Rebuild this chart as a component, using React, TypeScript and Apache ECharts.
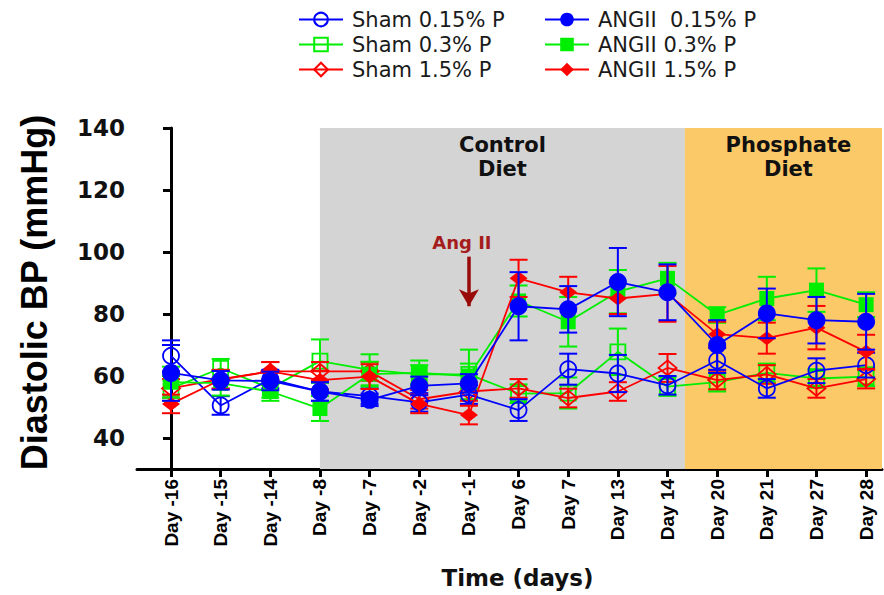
import React, { useEffect, useRef } from "react";
import * as echarts from "echarts";

const DAYS = ["Day -16", "Day -15", "Day -14", "Day -8", "Day -7", "Day -2", "Day -1", "Day 6", "Day 7", "Day 13", "Day 14", "Day 20", "Day 21", "Day 27", "Day 28"];
const DAY_INDEX = DAYS.map((_, i) => i);
const Y_TICKS = [40, 60, 80, 100, 120, 140];

const SHAM_015 = [66.5, 50.5, 59, 55, 53.5, 51.5, 54, 49, 62.2, 60.8, 57, 65, 56, 61.7, 63.5];
const SHAM_015_SEM = [5, 3, 3, 3, 2.5, 3, 3, 3.5, 5, 6, 3, 4, 3, 4, 4];
const SHAM_03 = [56, 62.5, 56, 64.8, 62, 60.5, 60.5, 54.3, 54.5, 67.8, 56.6, 58, 61, 59.2, 59.8];
const SHAM_03_SEM = [4, 3, 3, 7, 5, 3, 8, 3, 5, 7.5, 3, 3, 3, 3, 3];
const SHAM_15 = [56, 59, 61.5, 61.5, 61.5, 52.5, 55, 56, 52.9, 55, 62.6, 58.7, 60.5, 56, 59];
const SHAM_15_SEM = [3, 3, 3, 3, 3, 3, 3, 3, 3, 3, 4.5, 3, 3, 3, 3];
const ANG_015 = [61, 58.6, 58.4, 55, 52.3, 56.8, 57.6, 82.5, 81.5, 90.3, 87, 70, 80.2, 78, 77.5];
const ANG_015_SEM = [9, 3, 3, 3, 2, 3, 3, 11, 7.5, 11, 9, 8, 8, 7.5, 9];
const ANG_03 = [58, 57.7, 55, 49.5, 60.6, 61, 60, 84.2, 77.5, 87.2, 91.5, 79.7, 85, 87.7, 83];
const ANG_03_SEM = [5, 4, 3, 4, 4, 4, 4, 5, 8, 7, 5, 2.5, 7, 7, 4];
const ANG_15 = [51, 58.8, 61.5, 58.7, 59.8, 51, 47.4, 91.5, 87, 85, 86.5, 73.5, 72.2, 75.6, 67.8];
const ANG_15_SEM = [3, 3, 3, 3, 4, 3, 3, 6, 5, 5, 9, 4, 5, 7, 5.5];

const PHASE_NAMES = ["Control\nDiet", "Phosphate\nDiet"];
const PHASE_START = [3, 10.35];
const PHASE_END = [10.35, 14.32];
const ANG_II_DAY = 6;
const ANG_II_ARROW = [98.5, 82.5];

const BLUE = "#0000FF";
const GREEN = "#00EE00";
const RED = "#FF0000";

type Group = {
  name: string;
  values: number[];
  sem: number[];
  color: string;
  symbol: string;
  size: number | number[];
  open: boolean;
};

const GROUPS: Group[] = [
  { name: "Sham 0.3% P", values: SHAM_03, sem: SHAM_03_SEM, color: GREEN, symbol: "rect", size: 15, open: true },
  { name: "Sham 1.5% P", values: SHAM_15, sem: SHAM_15_SEM, color: RED, symbol: "diamond", size: [18, 15], open: true },
  { name: "Sham 0.15% P", values: SHAM_015, sem: SHAM_015_SEM, color: BLUE, symbol: "circle", size: 16, open: true },
  { name: "ANGII 0.3% P", values: ANG_03, sem: ANG_03_SEM, color: GREEN, symbol: "rect", size: 15, open: false },
  { name: "ANGII 1.5% P", values: ANG_15, sem: ANG_15_SEM, color: RED, symbol: "diamond", size: [18, 14], open: false },
  { name: "ANGII  0.15% P", values: ANG_015, sem: ANG_015_SEM, color: BLUE, symbol: "circle", size: 18, open: false },
];

const LEGEND_LEFT = ["Sham 0.15% P", "Sham 0.3% P", "Sham 1.5% P"];
const LEGEND_RIGHT = ["ANGII  0.15% P", "ANGII 0.3% P", "ANGII 1.5% P"];

export default function App() {
  const ref = useRef<HTMLDivElement>(null);
  useEffect(() => {
    if (!ref.current) return;
    const chart = echarts.init(ref.current, null, { renderer: "svg" });

    const series: any[] = [];
    series.push({
      name: "phases",
      type: "line",
      data: [],
      z: 0,
      clip: false,
      silent: true,
      markArea: {
        silent: true,
        data: PHASE_NAMES.map((n, i) => [
          {
            name: n,
            xAxis: PHASE_START[i],
            yAxis: 30,
            itemStyle: { color: i === 0 ? "#D4D4D4" : "#FCC969", opacity: 1 },
            label: { offset: i === 0 ? [0, 0] : [5, 0] },
          },
          { xAxis: PHASE_END[i], yAxis: 142.5 },
        ]),
        label: {
          show: true,
          position: "insideTop",
          distance: 5,
          color: "#111",
          fontFamily: "DejaVu Sans",
          fontWeight: "bold",
          fontSize: 21,
          lineHeight: 24,
          align: "center",
        },
      },
    });

    GROUPS.forEach((g, gi) => {
      series.push({
        name: g.name + " SEM",
        type: "custom",
        z: 2 + gi,
        silent: true,
        data: DAY_INDEX.map((i) => [i, g.values[i], g.sem[i]]),
        encode: { x: 0, y: 1 },
        renderItem: (params: any, api: any) => {
          const x = api.value(0);
          const y = api.value(1);
          const e = api.value(2);
          const top = api.coord([x, y + e]);
          const bot = api.coord([x, y - e]);
          const hw = 9;
          const st = { stroke: g.color, lineWidth: 2 };
          return {
            type: "group",
            children: [
              { type: "line", shape: { x1: top[0], y1: top[1], x2: bot[0], y2: bot[1] }, style: st },
              { type: "line", shape: { x1: top[0] - hw, y1: top[1], x2: top[0] + hw, y2: top[1] }, style: st },
              { type: "line", shape: { x1: bot[0] - hw, y1: bot[1], x2: bot[0] + hw, y2: bot[1] }, style: st },
            ],
          };
        },
      });
      series.push({
        name: g.name,
        type: "line",
        z: 2 + gi,
        color: g.color,
        data: DAY_INDEX.map((i) => [i, g.values[i]]),
        symbol: g.symbol,
        symbolSize: g.size,
        showSymbol: true,
        lineStyle: { color: g.color, width: 1.8 },
        itemStyle: g.open
          ? { color: "rgba(255,255,255,0)", borderColor: g.color, borderWidth: 1.8 }
          : { color: g.color, borderColor: g.color, borderWidth: 0 },
      });
    });

    series.push({
      name: "annot",
      type: "line",
      data: [],
      z: 20,
      silent: true,
      markLine: {
        silent: true,
        symbol: ["none", "arrow"],
        symbolSize: [15, 17],
        lineStyle: { color: "#990A0A", width: 3.5, type: "solid" },
        label: {
          show: true,
          position: "start",
          formatter: "Ang II",
          color: "#A51C1C",
          fontFamily: "DejaVu Sans",
          fontWeight: "bold",
          fontSize: 18,
          distance: 5,
          offset: [-7, 0],
        },
        data: [[{ coord: [ANG_II_DAY, ANG_II_ARROW[0]] }, { coord: [ANG_II_DAY, ANG_II_ARROW[1]] }]],
      },
    });

    const legendBase = {
      orient: "vertical",
      top: 9,
      padding: 0,
      itemWidth: 44,
      itemHeight: 17,
      itemGap: 4,
      textStyle: {
        fontFamily: "DejaVu Sans",
        fontSize: 21,
        lineHeight: 21,
        color: "#1a1a1a",
        padding: [0, 0, 0, 4],
      },
    };

    chart.setOption({
      animation: false,
      backgroundColor: "#fff",
      legend: [
        { ...legendBase, left: 298, data: LEGEND_LEFT },
        { ...legendBase, left: 544, data: LEGEND_RIGHT },
      ],
      grid: { left: 137, right: 2, top: 128, bottom: 126, containLabel: false },
      xAxis: {
        type: "value",
        min: -0.685,
        max: 14.32,
        splitNumber: 15,
        splitLine: { show: false },
        name: "Time (days)",
        nameLocation: "middle",
        nameGap: 97,
        nameTextStyle: {
          fontFamily: "DejaVu Sans",
          fontWeight: "bold",
          fontSize: 23,
          color: "#111",
          padding: [0, 0, 0, 16],
        },
        axisLine: { lineStyle: { color: "#000", width: 3 } },
        axisTick: { customValues: DAY_INDEX, length: 8, lineStyle: { color: "#000", width: 3 } },
        axisLabel: {
          customValues: DAY_INDEX,
          rotate: 90,
          margin: 10,
          fontFamily: "Liberation Sans",
          fontWeight: "bold",
          fontSize: 19,
          color: "#000",
          formatter: (v: number) => (Number.isInteger(v) ? DAYS[v] ?? "" : ""),
        },
      },
      yAxis: {
        type: "value",
        min: 30,
        max: 140,
        splitNumber: 5,
        splitLine: { show: false },
        name: "Diastolic BP (mmHg)",
        nameLocation: "middle",
        nameGap: 85,
        nameTextStyle: {
          fontFamily: "Liberation Sans",
          fontWeight: "bold",
          fontSize: 36,
          color: "#000",
          padding: [0, 0, 0, 12],
        },
        axisLine: { show: true, lineStyle: { color: "#000", width: 3 } },
        axisTick: { show: true, customValues: Y_TICKS, length: 8, lineStyle: { color: "#000", width: 3 } },
        axisLabel: {
          customValues: Y_TICKS,
          margin: 12,
          fontFamily: "DejaVu Sans",
          fontWeight: "bold",
          fontSize: 23,
          color: "#111",
        },
      },
      series,
    });
    return () => chart.dispose();
  }, []);
  return <div ref={ref} style={{ position: "fixed", left: 0, top: 0, width: 884, height: 595 }} />;
}
